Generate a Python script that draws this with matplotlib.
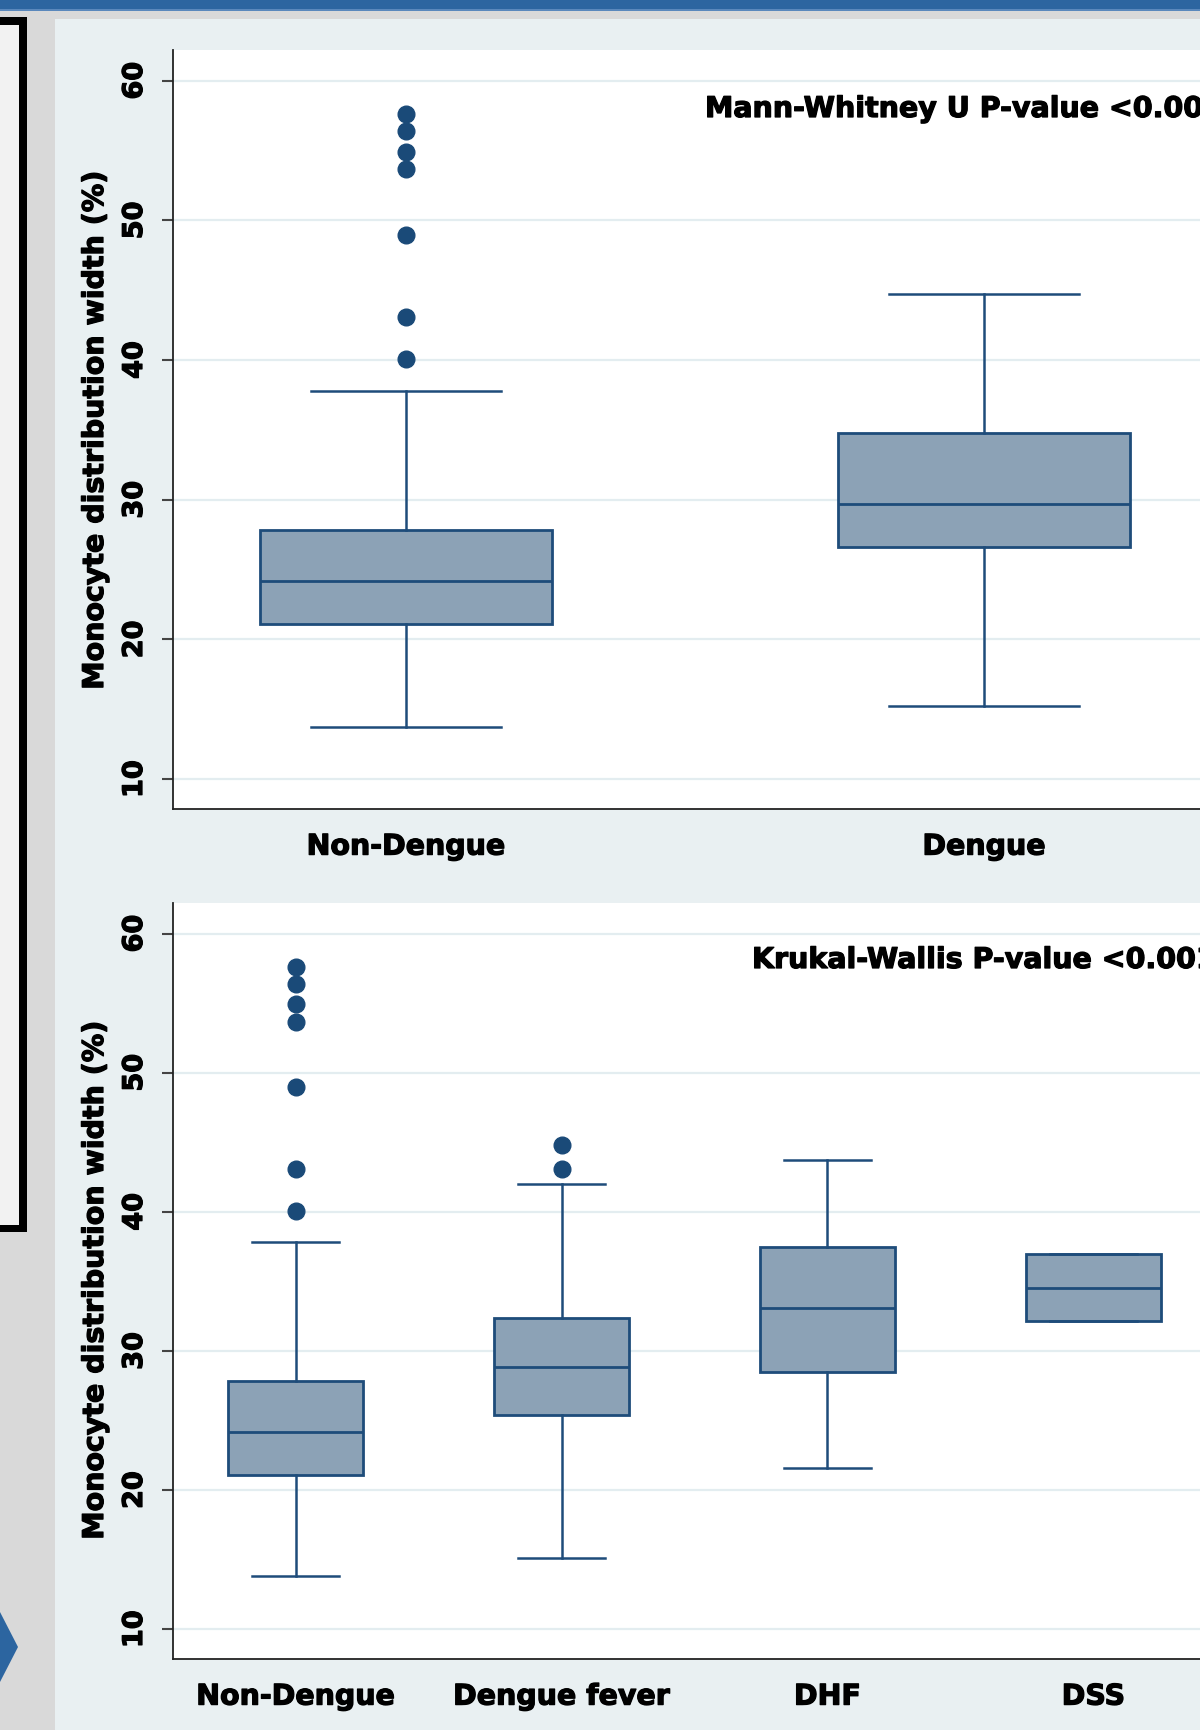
import matplotlib
matplotlib.use("Agg")
import matplotlib.pyplot as plt
import matplotlib.patheffects as pe
from matplotlib.patches import Rectangle, Polygon

# ---------------- data ----------------
top_categories = ["Non-Dengue", "Dengue"]
top_whislo = [13.75, 15.2]
top_q1 = [21.1, 26.6]
top_med = [24.2, 29.7]
top_q3 = [27.85, 34.75]
top_whishi = [37.8, 44.7]
top_fliers = [[40.05, 43.1, 48.95, 53.66, 54.9, 56.4, 57.6], []]

bot_categories = ["Non-Dengue", "Dengue fever", "DHF", "DSS"]
bot_whislo = [13.8, 15.15, 21.6, 32.17]
bot_q1 = [21.1, 25.37, 28.5, 32.17]
bot_med = [24.15, 28.86, 33.1, 34.5]
bot_q3 = [27.83, 32.35, 37.5, 36.95]
bot_whishi = [37.8, 42.0, 43.7, 36.95]
bot_fliers = [[40.07, 43.11, 48.97, 53.68, 54.95, 56.38, 57.63], [43.1, 44.8], [], []]

y_ticks = [10, 20, 30, 40, 50, 60]
y_label = "Monocyte distribution width (%)"
top_note = "Mann-Whitney U P-value <0.001"
bot_note = "Krukal-Wallis P-value <0.001"

# ---------------- style ----------------
plt.rcParams['font.family'] = ['DejaVu Sans']
plt.rcParams['font.weight'] = 'bold'

W, H = 1200, 1730
BG = '#E9F0F2'
BOX_FILL = '#8CA2B6'
EDGE = '#1E4C7A'
FS = 20.5
HEAVY = [pe.withStroke(linewidth=0.9, foreground='black')]

fig = plt.figure(figsize=(W / 100, H / 100), dpi=100, facecolor=BG)


def rect(x0, y0, x1, y1, color, z=0):
    fig.patches.append(Rectangle((x0 / W, 1 - y1 / H), (x1 - x0) / W, (y1 - y0) / H,
                                 transform=fig.transFigure, facecolor=color,
                                 edgecolor='none', zorder=z))


# slide decorations
rect(0, 0, 55, H, '#D9D9D9')
rect(0, 0, W, 19, '#D9D9D9')
rect(0, 0, W, 9, '#2C65A0')
rect(0, 9, W, 11, '#5A88BC')
rect(0, 25, 19, 1225, '#F2F2F2')
rect(19, 17, 26.5, 1232, '#000000')
rect(0, 17, 26.5, 25, '#000000')
rect(0, 1225, 26.5, 1232, '#000000')
fig.patches.append(Polygon([(0, 1 - 1612 / H), (18 / W, 1 - 1647 / H), (0, 1 - 1682 / H)],
                           closed=True, transform=fig.transFigure,
                           facecolor='#2C65A0', edgecolor='none'))


def make_stats(cats, wlo, q1, med, q3, whi, fl):
    stats = []
    for i in range(len(cats)):
        stats.append(dict(label=cats[i], whislo=wlo[i], q1=q1[i], med=med[i],
                          q3=q3[i], whishi=whi[i], fliers=fl[i]))
    return stats


def draw_panel(rect_px, cats, stats, margin, note, note_px):
    x0, y0, x1, y1 = rect_px
    ax = fig.add_axes([x0 / W, 1 - y1 / H, (x1 - x0) / W, (y1 - y0) / H])
    ax.set_facecolor('white')
    n = len(cats)
    pos = list(range(1, n + 1))
    ax.bxp(stats, positions=pos, widths=0.505, patch_artist=True, showfliers=True,
           boxprops=dict(facecolor=BOX_FILL, edgecolor=EDGE, linewidth=2.0),
           medianprops=dict(color=EDGE, linewidth=2.0),
           whiskerprops=dict(color=EDGE, linewidth=1.8),
           capprops=dict(color=EDGE, linewidth=1.8),
           capwidths=0.33,
           flierprops=dict(marker='o', markersize=12, markerfacecolor='#1A4A78',
                           markeredgecolor='#1A4A78'))
    ax.set_xlim(1 - margin, n + margin)
    ax.set_ylim(7.86, 62.2)
    for t in y_ticks:
        ax.axhline(t, color='#E3EDF0', linewidth=1.6, zorder=0)
    ax.set_yticks(y_ticks)
    ax.set_yticklabels([str(t) for t in y_ticks], rotation=90, va='center',
                       fontsize=19.5, fontweight='bold')
    ax.tick_params(axis='y', length=8, width=1.5, color='#444444', pad=10)
    ax.set_xticks(pos)
    ax.set_xticklabels(cats, fontsize=FS, fontweight='bold')
    ax.tick_params(axis='x', length=0, pad=17)
    for lab in ax.get_xticklabels() + ax.get_yticklabels():
        lab.set_path_effects(HEAVY)
    for s in ['top', 'right']:
        ax.spines[s].set_visible(False)
    for s in ['left', 'bottom']:
        ax.spines[s].set_color('#222222')
        ax.spines[s].set_linewidth(1.3)
    fig.text(note_px[0] / W, 1 - note_px[1] / H, note, fontsize=FS,
             fontweight='bold', ha='left', va='baseline', color='black',
             path_effects=HEAVY)
    return ax


ax1 = draw_panel((173, 50, 1217, 809), top_categories,
                 make_stats(top_categories, top_whislo, top_q1, top_med, top_q3,
                            top_whishi, top_fliers),
                 0.403, top_note, (705, 117))
ax2 = draw_panel((173, 903, 1216, 1659), bot_categories,
                 make_stats(bot_categories, bot_whislo, bot_q1, bot_med, bot_q3,
                            bot_whishi, bot_fliers),
                 0.461, bot_note, (752, 968))

fig.text(95 / W, 1 - 430 / H, y_label, rotation=90, ha='center', va='center',
         fontsize=FS, fontweight='bold', path_effects=HEAVY)
fig.text(95 / W, 1 - 1280 / H, y_label, rotation=90, ha='center', va='center',
         fontsize=FS, fontweight='bold', path_effects=HEAVY)

fig.savefig("out.png", dpi=100, facecolor=BG)
